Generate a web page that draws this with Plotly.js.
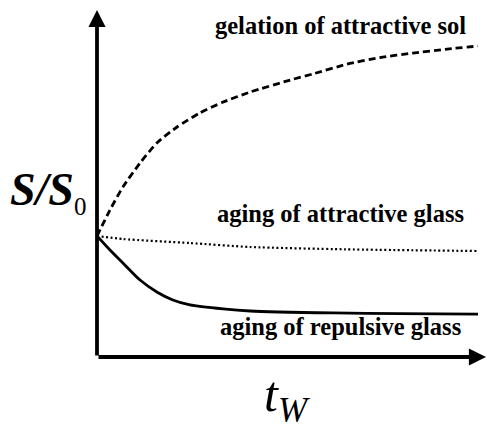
<!DOCTYPE html>
<html>
<head>
<meta charset="utf-8">
<script src="https://cdn.plot.ly/plotly-3.0.1.min.js"></script>
<style>html,body{margin:0;padding:0;background:#fff;}#chart{width:487px;height:425px;}</style>
</head>
<body>
<div id="chart"></div>
<script>
// waiting time (arbitrary units) and normalized S/S0 for each scenario
const tGel = [0, 0.34, 0.68, 1.13, 1.57, 2.10, 2.70, 3.31, 4.02, 5.07, 5.67, 6.56, 7.43, 8.29, 9.19, 10];
const sGel = [1, 1.215, 1.405, 1.603, 1.769, 1.901, 2.017, 2.107, 2.190, 2.289, 2.340, 2.420, 2.475, 2.512, 2.545, 2.570];
const tAttr = [0, 0.68, 2.44, 4.02, 6.5, 10];
const sAttr = [1, 0.975, 0.942, 0.909, 0.89, 0.876];
const tRep = [0, 0.34, 0.68, 1.13, 1.57, 1.99, 2.44, 3.31, 4.02, 6.19, 7.95, 10];
const sRep = [1, 0.884, 0.777, 0.636, 0.537, 0.471, 0.430, 0.397, 0.380, 0.364, 0.358, 0.355];
const labels = ["gelation of attractive sol", "aging of attractive glass", "aging of repulsive glass"];

const serif = "Liberation Serif";
const traces = [
  {x: tGel, y: sGel, mode: "lines", line: {color: "#000", width: 2.8, dash: "7px,4px", shape: "spline", smoothing: 0.6}, cliponaxis: false},
  {x: tAttr, y: sAttr, mode: "lines", line: {color: "#000", width: 2.2, dash: "2px,2.5px", shape: "spline", smoothing: 0.6}, cliponaxis: false},
  {x: tRep, y: sRep, mode: "lines", line: {color: "#000", width: 2.8, shape: "spline", smoothing: 0.6}, cliponaxis: false}
];
const layout = {
  width: 487, height: 425,
  margin: {l: 97, r: 1, t: 10, b: 68},
  paper_bgcolor: "#fff", plot_bgcolor: "#fff",
  showlegend: false,
  xaxis: {range: [0, 10.21], showgrid: false, zeroline: false, showticklabels: false, ticks: ""},
  yaxis: {range: [0, 2.868], showgrid: false, zeroline: false, showticklabels: false, ticks: ""},
  annotations: [
    {x: 10.21, y: 0, ax: 0, ay: 0, xref: "x", yref: "y", axref: "x", ayref: "y", showarrow: true, arrowhead: 2, arrowwidth: 3.8, arrowsize: 0.9, arrowcolor: "#000", text: ""},
    {x: 0, y: 2.868, ax: 0, ay: 0, xref: "x", yref: "y", axref: "x", ayref: "y", showarrow: true, arrowhead: 2, arrowwidth: 3.8, arrowsize: 0.9, arrowcolor: "#000", text: ""},
    {x: 6.38, y: 2.744, xref: "x", yref: "y", showarrow: false, text: "<b>" + labels[0] + "</b>", font: {family: serif, size: 24.5, color: "#000"}},
    {x: 6.38, y: 1.182, xref: "x", yref: "y", showarrow: false, text: "<b>" + labels[1] + "</b>", font: {family: serif, size: 24.5, color: "#000"}},
    {x: 6.38, y: 0.256, xref: "x", yref: "y", showarrow: false, text: "<b>" + labels[2] + "</b>", font: {family: serif, size: 24.5, color: "#000"}},
    {x: -0.229, y: 0.476, xref: "paper", yref: "paper", xanchor: "left", yanchor: "middle", showarrow: false, text: "<b><i>S/S</i></b><sub><span style=\"font-size:25px\">0</span></sub>", font: {family: serif, size: 46, color: "#000"}},
    {x: 0.489, y: -0.117, xref: "paper", yref: "paper", xanchor: "center", yanchor: "middle", showarrow: false, text: "<i>t</i><sub><i>W</i></sub>", font: {family: serif, size: 50, color: "#000"}}
  ]
};
Plotly.newPlot("chart", traces, layout, {displayModeBar: false, staticPlot: true});
</script>
</body>
</html>
